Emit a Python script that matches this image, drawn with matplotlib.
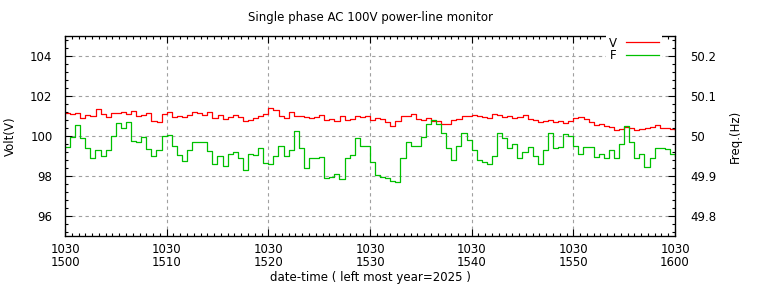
import numpy as np
import matplotlib
matplotlib.use('Agg')
import matplotlib.pyplot as plt
from matplotlib.ticker import MultipleLocator, AutoMinorLocator

minutes = np.arange(121) * 0.5

volt = [
    101.15, 101.1, 101.15, 100.9, 101.05, 101.0, 101.35, 101.1, 100.95, 101.15,
    101.15, 101.2, 101.1, 101.25, 101.0, 101.05, 101.15, 100.75, 100.7, 101.1,
    101.2, 100.95, 101.0, 100.95, 101.05, 101.2, 101.15, 101.05, 101.2, 100.9,
    101.05, 100.85, 100.95, 101.05, 100.95, 100.75, 100.8, 100.9, 101.0, 101.1,
    101.4,
    101.3, 101.0, 100.9, 101.2, 101.0, 101.0, 100.95, 100.9, 100.95, 101.05,
    100.8, 100.85, 100.75, 101.0, 100.8, 100.85, 101.0, 100.95, 101.0, 100.8,
    100.9, 100.85, 100.7, 100.5, 100.75, 101.0, 101.0, 101.1, 100.85, 100.8,
    100.9, 100.75, 100.75, 100.6, 100.6, 100.8, 100.85, 101.0, 101.0, 101.05,
    101.0, 100.95, 100.9, 101.1, 101.05, 100.95, 101.0, 100.9, 100.95, 101.05,
    100.85, 100.8, 100.7, 100.75, 100.8, 100.7, 100.75, 100.65, 100.75, 100.9,
    100.95, 100.85, 100.7, 100.55, 100.6, 100.5, 100.45, 100.3, 100.35, 100.45,
    100.4, 100.3, 100.35, 100.4, 100.45, 100.55, 100.4, 100.4, 100.35, 100.3,
]

freq = [
    49.973, 49.998, 50.028, 49.995, 49.970, 49.945, 49.965, 49.950, 49.965, 50.000,
    50.033, 50.020, 50.035, 49.988, 49.985, 49.998, 49.968, 49.950, 49.965, 50.000,
    50.003, 49.975, 49.953, 49.938, 49.965, 49.985, 49.985, 49.985, 49.963, 49.930,
    49.950, 49.925, 49.955, 49.960, 49.945, 49.915, 49.955, 49.953, 49.970, 49.933,
    49.930,
    49.950, 49.975, 49.950, 49.965, 50.013, 49.970, 49.920, 49.945, 49.945, 49.948,
    49.895, 49.898, 49.905, 49.893, 49.945, 49.953, 49.995, 49.975, 49.975, 49.935,
    49.903, 49.898, 49.895, 49.888, 49.885, 49.945, 49.985, 49.975, 49.975, 49.998,
    50.030, 50.040, 50.030, 50.008, 49.970, 49.940, 49.975, 50.008, 49.990, 49.965,
    49.940, 49.935, 49.929, 49.950, 50.008, 49.995, 49.970, 49.980, 49.945, 49.960,
    49.973, 49.950, 49.930, 49.965, 50.008, 49.970, 49.973, 50.005, 50.000, 49.975,
    49.955, 49.973, 49.973, 49.948, 49.955, 49.945, 49.965, 49.945, 49.980, 50.025,
    49.985, 49.945, 49.955, 49.923, 49.945, 49.970, 49.970, 49.968, 49.955, 49.950,
]

tick_pos = [0, 10, 20, 30, 40, 50, 60]
tick_labels = ['1030\n1500', '1030\n1510', '1030\n1520', '1030\n1530',
               '1030\n1540', '1030\n1550', '1030\n1600']

plt.rcParams['font.family'] = 'DejaVu Sans'
plt.rcParams['font.size'] = 8.5

fig = plt.figure(figsize=(7.68, 2.88), dpi=100)
ax = fig.add_axes([65 / 768, 52 / 288, 610 / 768, 200 / 288])
ax2 = ax.twinx()

lv, = ax.plot(minutes, volt, color='#ff0000', lw=0.9, drawstyle='steps-post', label='V')
lf, = ax2.plot(minutes, freq, color='#00c000', lw=0.9, drawstyle='steps-post', label='F')

ax.set_xlim(0, 60)
ax.set_ylim(95, 105)
ax2.set_ylim(49.75, 50.25)

ax.set_xticks(tick_pos)
ax.set_xticklabels(tick_labels, linespacing=1.0)
ax.xaxis.set_minor_locator(AutoMinorLocator(15))
ax.set_yticks([96, 98, 100, 102, 104])
ax.yaxis.set_minor_locator(MultipleLocator(0.4))
ax2.set_yticks([49.8, 49.9, 50.0, 50.1, 50.2])
ax2.set_yticklabels(['49.8', '49.9', '50', '50.1', '50.2'])
ax2.yaxis.set_minor_locator(MultipleLocator(0.02))

ax.tick_params(which='both', direction='in', top=True, right=False)
ax.tick_params(which='major', length=5, width=0.8)
ax.tick_params(which='minor', length=2.5, width=0.8)
ax.tick_params(axis='y', pad=9)
ax.tick_params(axis='x', pad=5)
ax2.tick_params(which='both', direction='in')
ax2.tick_params(which='major', length=5, width=0.8, pad=11)
ax2.tick_params(which='minor', length=2.5, width=0.8)

ax.grid(True, which='major', color='#a0a0a0', linestyle=(0, (3, 3)), lw=0.8)

for sp in ax2.spines.values():
    sp.set_linewidth(0.9)

ax.set_ylabel('Volt(V)')
ax.yaxis.set_label_coords(-0.079, 0.5)
ax2.set_ylabel('Freq.(Hz)')
ax2.yaxis.set_label_coords(1.089, 0.5)
ax.set_xlabel('date-time ( left most year=2025 )')
ax.xaxis.set_label_coords(0.5, -0.175)

fig.text(370 / 768, 1 - 17 / 288, 'Single phase AC 100V power-line monitor',
         ha='center', va='center', fontsize=8.5)

leg = ax2.legend([lv, lf], ['V', 'F'], loc='upper right', bbox_to_anchor=(0.98, 1.015),
                 markerfirst=False, frameon=True, fancybox=False, edgecolor='none',
                 facecolor='white', framealpha=1.0, handlelength=2.8, handletextpad=0.8,
                 labelspacing=-0.05, borderpad=0.2, borderaxespad=0.1)

fig.savefig('out.png', dpi=100)
